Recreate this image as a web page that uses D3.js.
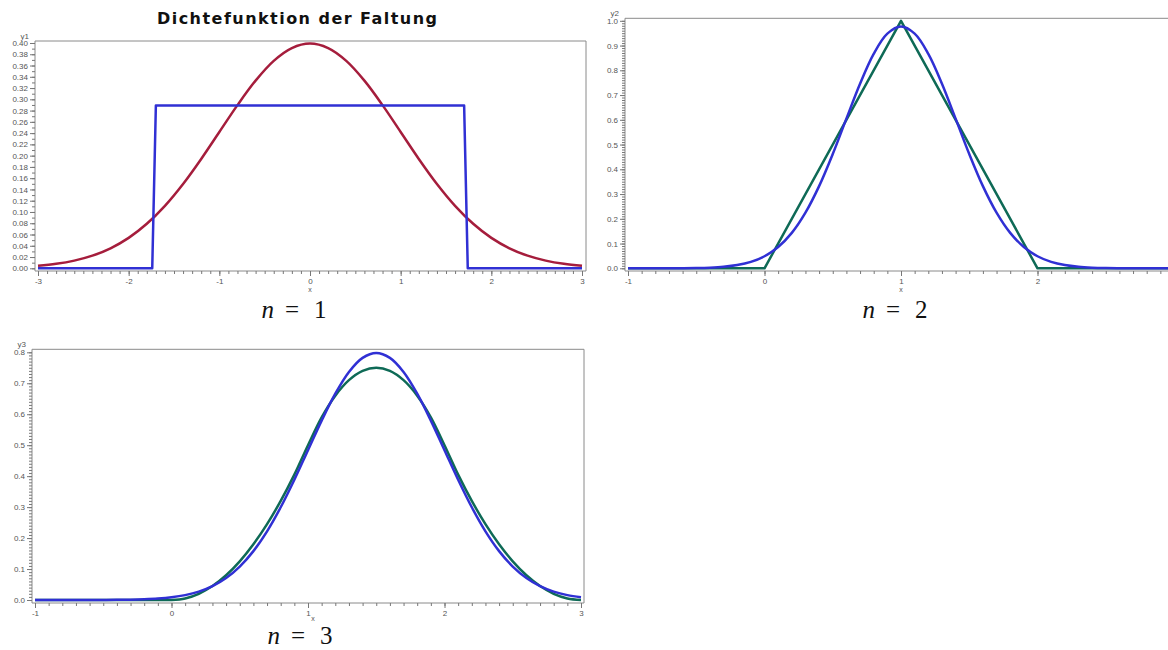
<!DOCTYPE html>
<html>
<head>
<meta charset="utf-8">
<script src="https://cdn.jsdelivr.net/npm/d3@7"></script>
<style>
  html, body { margin: 0; padding: 0; background: #fff; }
  svg { display: block; }
  .tick text { font-family: "Liberation Sans", Arial, sans-serif; font-size: 8px; fill: #555; }
  .tick line { stroke: #777; stroke-width: 1; }
</style>
</head>
<body>
<svg id="chart" width="1168" height="650"></svg>
<script>
// ---- panel n = 1: standard normal vs. uniform on [-sqrt3, sqrt3] ----
const x1 = [-3.0,-2.8,-2.6,-2.4,-2.2,-2.0,-1.8,-1.6,-1.4,-1.2,-1.0,-0.8,-0.6,-0.4,-0.2,0.0,
            0.2,0.4,0.6,0.8,1.0,1.2,1.4,1.6,1.8,2.0,2.2,2.4,2.6,2.8,3.0];
const normal1 = [0.0044,0.0079,0.0136,0.0224,0.0355,0.0540,0.0790,0.1109,0.1497,0.1942,0.2420,0.2897,0.3332,0.3683,0.3910,0.3989,
                 0.3910,0.3683,0.3332,0.2897,0.2420,0.1942,0.1497,0.1109,0.0790,0.0540,0.0355,0.0224,0.0136,0.0079,0.0044];
const uniformX = [-3, -1.74, -1.70, 1.70, 1.74, 3];
const uniformY = [0, 0, 0.289, 0.289, 0, 0];
const yTicks1 = [0,0.02,0.04,0.06,0.08,0.10,0.12,0.14,0.16,0.18,0.20,0.22,0.24,0.26,0.28,0.30,0.32,0.34,0.36,0.38,0.40];
const xTicks1 = [-3,-2,-1,0,1,2,3];

// ---- panels n = 2 and n = 3 share one x grid ----
const xGrid = [-1.0,-0.9,-0.8,-0.7,-0.6,-0.5,-0.4,-0.3,-0.2,-0.1,0.0,0.1,0.2,0.3,0.4,0.5,0.6,0.7,0.8,0.9,1.0,
               1.1,1.2,1.3,1.4,1.5,1.6,1.7,1.8,1.9,2.0,2.1,2.2,2.3,2.4,2.5,2.6,2.7,2.8,2.9,3.0];

// n = 2: triangular density and its normal approximation
const triX = [-1, 0, 1, 2, 3];
const triY = [0, 0, 1, 0, 0];
const normal2 = [0,0,0.0001,0.0002,0.0004,0.0011,0.0027,0.0061,0.0130,0.0259,0.0486,0.0860,0.1430,0.2247,0.3319,0.4616,0.6047,0.7460,0.8667,0.9483,0.9772,
                 0.9483,0.8667,0.7460,0.6047,0.4616,0.3319,0.2247,0.1430,0.0860,0.0486,0.0259,0.0130,0.0061,0.0027,0.0011,0.0004,0.0002,0.0001,0,0];
const yTicks2 = [0,0.1,0.2,0.3,0.4,0.5,0.6,0.7,0.8,0.9,1.0];
const xTicks2 = [-1,0,1,2];

// n = 3: density of the sum of three uniforms and its normal approximation
const sum3 = [0,0,0,0,0,0,0,0,0,0,0,0.005,0.02,0.045,0.08,0.125,0.18,0.245,0.32,0.405,0.5,
              0.59,0.66,0.71,0.74,0.75,0.74,0.71,0.66,0.59,0.5,0.405,0.32,0.245,0.18,0.125,0.08,0.045,0.02,0.005,0];
const normal3 = [0,0,0,0.0001,0.0001,0.0003,0.0006,0.0012,0.0025,0.0048,0.0089,0.0158,0.0271,0.0448,0.0710,0.1080,0.1579,0.2218,0.2995,0.3884,0.4839,
                 0.5794,0.6665,0.7366,0.7821,0.7979,0.7821,0.7366,0.6665,0.5794,0.4839,0.3884,0.2995,0.2218,0.1579,0.1080,0.0710,0.0448,0.0271,0.0158,0.0089];
const yTicks3 = [0,0.1,0.2,0.3,0.4,0.5,0.6,0.7,0.8];
const xTicks3 = [-1,0,1,2,3];

const RED = "#a51d3c", BLUE = "#3030d4", GREEN = "#0e6a56", AXIS = "#8a8a8a";

const svg = d3.select("#chart");

svg.append("text")
  .attr("x", 297).attr("y", 24)
  .attr("text-anchor", "middle")
  .attr("textLength", 280)
  .attr("lengthAdjust", "spacing")
  .style("font-family", "'DejaVu Sans', 'Liberation Sans', Arial, sans-serif")
  .style("font-weight", "bold")
  .style("font-size", "16px")
  .style("fill", "#111")
  .text("Dichtefunktion der Faltung");

const fmtX = d => String(d);

function panel(cfg) {
  const g = svg.append("g");
  const x = d3.scaleLinear().domain(cfg.xDomain).range(cfg.xRange);
  const y = d3.scaleLinear().domain(cfg.yDomain).range(cfg.yRange);
  const f = cfg.frame;

  // frame
  g.append("path")
    .attr("d", `M${f.l},${f.t}H${f.r}V${f.b}H${f.l}Z`)
    .attr("fill", "none").attr("stroke", AXIS).attr("stroke-width", 1);

  // y axis: minor then major ticks
  const yMinor = d3.range(cfg.yDomain[0], cfg.yDomain[1] + 1e-9, cfg.yMinorStep);
  g.append("g").attr("transform", `translate(${f.l},0)`)
    .call(d3.axisLeft(y).tickValues(yMinor).tickSize(3).tickFormat(""))
    .call(a => a.select(".domain").remove());
  g.append("g").attr("transform", `translate(${f.l},0)`)
    .call(d3.axisLeft(y).tickValues(cfg.yTicks).tickSize(5).tickPadding(2).tickFormat(d3.format(cfg.yFmt)))
    .call(a => a.select(".domain").remove());

  // x axis: minor then major ticks
  const xMinor = d3.range(cfg.xDomain[0], cfg.xDomain[1] + 1e-9, 0.1);
  g.append("g").attr("transform", `translate(0,${f.b})`)
    .call(d3.axisBottom(x).tickValues(xMinor).tickSize(3).tickFormat(""))
    .call(a => a.select(".domain").remove());
  g.append("g").attr("transform", `translate(0,${f.b})`)
    .call(d3.axisBottom(x).tickValues(cfg.xTicks).tickSize(5).tickPadding(2).tickFormat(fmtX))
    .call(a => a.select(".domain").remove());

  // axis names
  g.append("text").attr("x", f.l - 6).attr("y", f.t - 2)
    .attr("text-anchor", "end")
    .style("font-family", "'Liberation Sans', Arial, sans-serif")
    .style("font-size", "8px").style("fill", "#555")
    .text(cfg.yName);
  g.append("text").attr("x", cfg.xNameX).attr("y", f.b + cfg.xNameDy)
    .attr("text-anchor", "middle")
    .style("font-family", "'Liberation Sans', Arial, sans-serif")
    .style("font-size", "7px").style("fill", "#555")
    .text("x");

  // curves
  cfg.series.forEach(s => {
    const pts = s.x.map((xv, i) => [xv, s.y[i]]);
    g.append("path")
      .datum(pts)
      .attr("fill", "none")
      .attr("stroke", s.color)
      .attr("stroke-width", 2.5)
      .attr("stroke-linejoin", "round")
      .attr("d", d3.line().x(d => x(d[0])).y(d => y(d[1])).curve(s.curve));
  });

  // caption n = k
  const cap = svg.append("text")
    .attr("x", cfg.capX).attr("y", cfg.capY)
    .attr("text-anchor", "middle")
    .style("font-family", "'Liberation Serif', 'DejaVu Serif', serif")
    .style("font-size", "25px").style("fill", "#111");
  cap.append("tspan").style("font-style", "italic").text("n");
  cap.append("tspan").attr("dx", 11).text("=");
  cap.append("tspan").attr("dx", 15).text(cfg.n);
}

panel({
  xDomain: [-3, 3], xRange: [38, 582],
  yDomain: [0, 0.4], yRange: [268.3, 43],
  frame: { l: 35, r: 586, t: 41, b: 271 },
  yTicks: yTicks1, yMinorStep: 0.01, yFmt: ".2f",
  xTicks: xTicks1, yName: "y1", xNameX: 310, xNameDy: 21,
  series: [
    { x: x1, y: normal1, color: RED, curve: d3.curveCatmullRom },
    { x: uniformX, y: uniformY, color: BLUE, curve: d3.curveLinear }
  ],
  n: 1, capX: 294, capY: 318
});

panel({
  xDomain: [-1, 3], xRange: [628, 1174],
  yDomain: [0, 1], yRange: [268.3, 20.8],
  frame: { l: 625, r: 1180, t: 18.3, b: 271 },
  yTicks: yTicks2, yMinorStep: 0.01, yFmt: ".1f",
  xTicks: xTicks2, yName: "y2", xNameX: 901, xNameDy: 21,
  series: [
    { x: triX, y: triY, color: GREEN, curve: d3.curveLinear },
    { x: xGrid, y: normal2, color: BLUE, curve: d3.curveCatmullRom }
  ],
  n: 2, capX: 895, capY: 318
});

panel({
  xDomain: [-1, 3], xRange: [35, 581],
  yDomain: [0, 0.8], yRange: [600, 352.3],
  frame: { l: 32, r: 584, t: 349.3, b: 603 },
  yTicks: yTicks3, yMinorStep: 0.01, yFmt: ".1f",
  xTicks: xTicks3, yName: "y3", xNameX: 313, xNameDy: 18,
  series: [
    { x: xGrid, y: sum3, color: GREEN, curve: d3.curveCatmullRom },
    { x: xGrid, y: normal3, color: BLUE, curve: d3.curveCatmullRom }
  ],
  n: 3, capX: 300, capY: 644
});
</script>
</body>
</html>
